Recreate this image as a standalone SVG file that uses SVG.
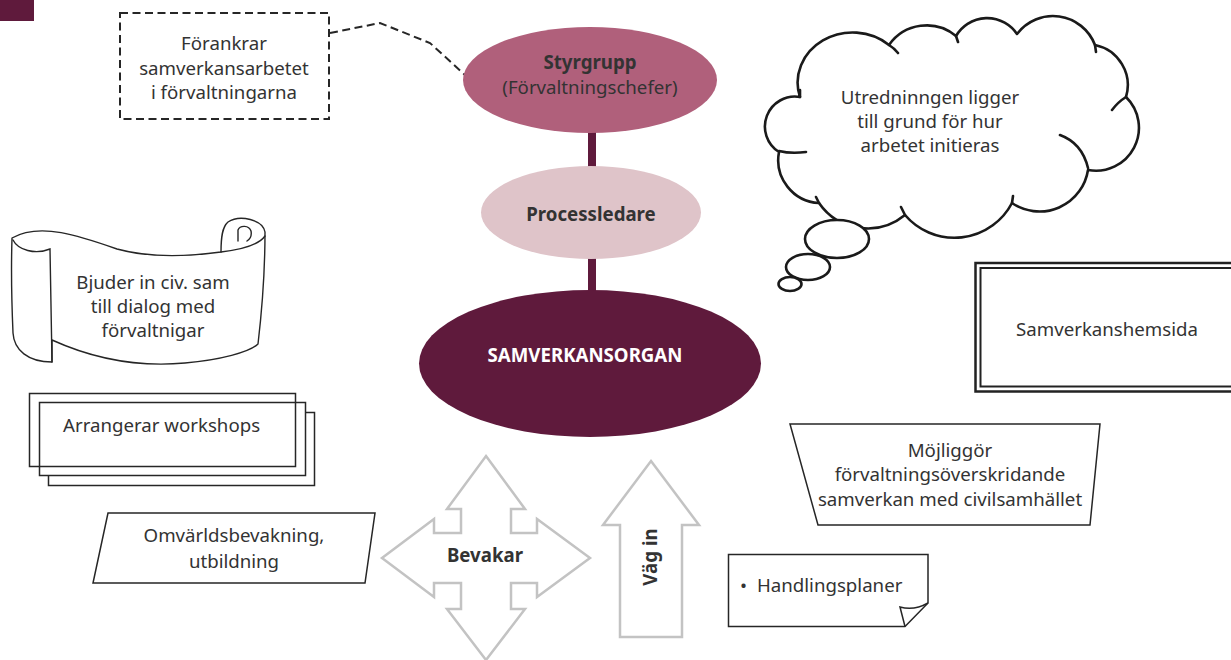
<svg xmlns="http://www.w3.org/2000/svg" width="1231" height="660" viewBox="0 0 1231 660">
  <style>
    text { font-family: "Noto Sans", "Open Sans", sans-serif; font-size: 18.67px; fill: #333333; }
    .c { text-anchor: middle; }
    .b { font-weight: bold; }
    .w { fill: #ffffff; }
    .thin { fill: #ffffff; stroke: #262626; stroke-width: 1.5; }
    .none { fill: none; stroke: #262626; stroke-width: 1.5; }
    .dash { fill: none; stroke: #262626; stroke-width: 2; stroke-dasharray: 8 4.5; }
    .cloud { fill: #ffffff; stroke: #1a1a1a; stroke-width: 2.6; stroke-linejoin: round; }
    .tick { fill: none; stroke: #1a1a1a; stroke-width: 2.6; stroke-linecap: round; }
    .grey { fill: #ffffff; stroke: #c3c3c3; stroke-width: 2.5; stroke-linejoin: miter; }
    .scroll { fill: #ffffff; stroke: #262626; stroke-width: 1.4; stroke-linejoin: round; }
    .scrolll { fill: none; stroke: #262626; stroke-width: 1.4; stroke-linecap: round; }
  </style>

  <!-- corner tab -->
  <rect x="0" y="0" width="34" height="21" fill="#5f1a3c"/>

  <!-- connectors -->
  <g id="connectors">
    <line x1="592" y1="120" x2="592" y2="300" stroke="#5f1a3c" stroke-width="8"/>
    <polyline class="dash" points="330,33 380,23 430,43 465,75"/>
  </g>

  <!-- hierarchy -->
  <g id="styrgrupp">
    <ellipse cx="590" cy="80" rx="127" ry="53" fill="#b0607b"/>
    <text class="c b" x="590" y="68.5" fill="#2b2b2b">Styrgrupp</text>
    <text class="c" x="590" y="93.5">(Förvaltningschefer)</text>
  </g>
  <g id="processledare">
    <ellipse cx="591" cy="212.5" rx="110" ry="46.5" fill="#dfc4c9"/>
    <text class="c b" x="591" y="221" fill="#2b2b2b">Processledare</text>
  </g>
  <g id="samverkansorgan">
    <ellipse cx="590" cy="363.5" rx="171" ry="73.5" fill="#5f1a3c"/>
    <text class="c b w" x="585" y="361.5">SAMVERKANSORGAN</text>
  </g>

  <!-- dashed note -->
  <g id="forankrar">
    <rect class="dash" x="120" y="13" width="209" height="106"/>
    <text class="c" x="224" y="50">Förankrar</text>
    <text class="c" x="224" y="74.5">samverkansarbetet</text>
    <text class="c" x="224" y="99">i förvaltningarna</text>
  </g>

  <!-- thought cloud -->
  <g id="utredning">
    <path class="cloud" d="M800,97 A55,50 0 0 1 889,45 A46,46 0 0 1 956,36 A36,36 0 0 1 1017,34 A45,45 0 0 1 1095,45 A41,41 0 0 1 1126,97 A43,43 0 0 1 1088,170 A49,49 0 0 1 1012,203 A65,65 0 0 1 905,215 A59,59 0 0 1 819,203 A43,43 0 0 1 779,152 A30,30 0 0 1 800,97 Z"/>
    <path class="tick" d="M889,45 Q894,48 898,53 M956,36 L958,42 M1095,45 L1096,52 M1126,97 Q1118,102 1112,110 M1060,135 Q1082,143 1088,168 M1012,203 L1013,196 M905,215 L901,207 M819,203 L816,197 M779,151 Q791,154 806,152 M800,97 L800,90"/>
    <ellipse class="cloud" cx="837" cy="239" rx="32" ry="19"/>
    <ellipse class="cloud" cx="808" cy="267" rx="22" ry="13"/>
    <ellipse class="cloud" cx="790" cy="284" rx="11.5" ry="7"/>
    <text class="c" x="930" y="103.5">Utredninngen ligger</text>
    <text class="c" x="930" y="128">till grund för hur</text>
    <text class="c" x="930" y="152">arbetet initieras</text>
  </g>

  <!-- scroll -->
  <g id="bjuder">
    <path class="scroll" d="M52,340 C85,355 130,368 185,363 C220,360 250,352 258,344 C262,310 265,262 265,232 C263,220 240,214 228,222 C222,227 221,238 221,252 C185,257 150,258 117,249 C80,236 40,222 12,238 C11,270 12,310 13,333 C14,350 28,362 52,362 Z"/>
    <path class="scrolll" d="M13,240 C18,250 35,255 50,249 L52,362 M221,252 C238,250 258,246 265,236 M238,241 L238,230 C240,225 249,225 251,231 C252,236 250,239 247,241"/>
    <text class="c" x="153" y="288.5">Bjuder in civ. sam</text>
    <text class="c" x="153" y="312.5">till dialog med</text>
    <text class="c" x="153" y="336.5">förvaltnigar</text>
  </g>

  <!-- stacked sheets -->
  <g id="workshops">
    <rect class="thin" x="48.5" y="412.5" width="266" height="73"/>
    <rect class="thin" x="39.5" y="402.5" width="266" height="73"/>
    <rect class="none" x="29.5" y="393.5" width="266" height="73"/>
    <text x="63" y="431.5">Arrangerar workshops</text>
  </g>

  <!-- parallelogram -->
  <g id="omvarld">
    <polygon class="thin" points="108,513 375,513 365,583 93,583"/>
    <text class="c" x="234" y="541.5">Omvärldsbevakning,</text>
    <text class="c" x="234" y="568">utbildning</text>
  </g>

  <!-- four-way arrow -->
  <g id="bevakar">
    <polygon class="grey" points="486,456 525,509 511,509 511,533 537,533 537,519 590,558 537,597 537,583 511,583 511,609 525,609 486,660 447,609 461,609 461,583 434,583 434,597 382,558 434,519 434,533 461,533 461,509 447,509"/>
    <text class="c b" x="485" y="561.5" fill="#262626">Bevakar</text>
  </g>

  <!-- up arrow -->
  <g id="vag-in">
    <polygon class="grey" points="651,461 699,525 682,525 682,637 620,637 620,525 603,525"/>
    <text class="c b" transform="translate(656.5,557) rotate(-90)" x="0" y="0" fill="#262626">Väg in</text>
  </g>

  <!-- trapezoid -->
  <g id="mojliggor">
    <polygon class="thin" points="790,424 1100,424 1090,525 818,525"/>
    <text class="c" x="950" y="456.5">Möjliggör</text>
    <text class="c" x="950" y="481">förvaltningsöverskridande</text>
    <text class="c" x="950" y="505.5">samverkan med civilsamhället</text>
  </g>

  <!-- note with folded corner -->
  <g id="handlingsplaner">
    <path class="thin" d="M728.5,554.5 H928 V603 L905,626.5 H728.5 Z"/>
    <path class="none" d="M905,626.5 L900,607 Q914,611 928,603"/>
    <text x="740" y="591.5">•</text>
    <text x="757" y="591.5">Handlingsplaner</text>
  </g>

  <!-- double-framed box -->
  <g id="hemsida">
    <rect x="975.5" y="263" width="270" height="128.5" fill="#ffffff" stroke="#222222" stroke-width="2.5"/>
    <rect x="980.5" y="268" width="260" height="118.5" fill="none" stroke="#222222" stroke-width="2"/>
    <text class="c" x="1107" y="335.5">Samverkanshemsida</text>
  </g>
</svg>
